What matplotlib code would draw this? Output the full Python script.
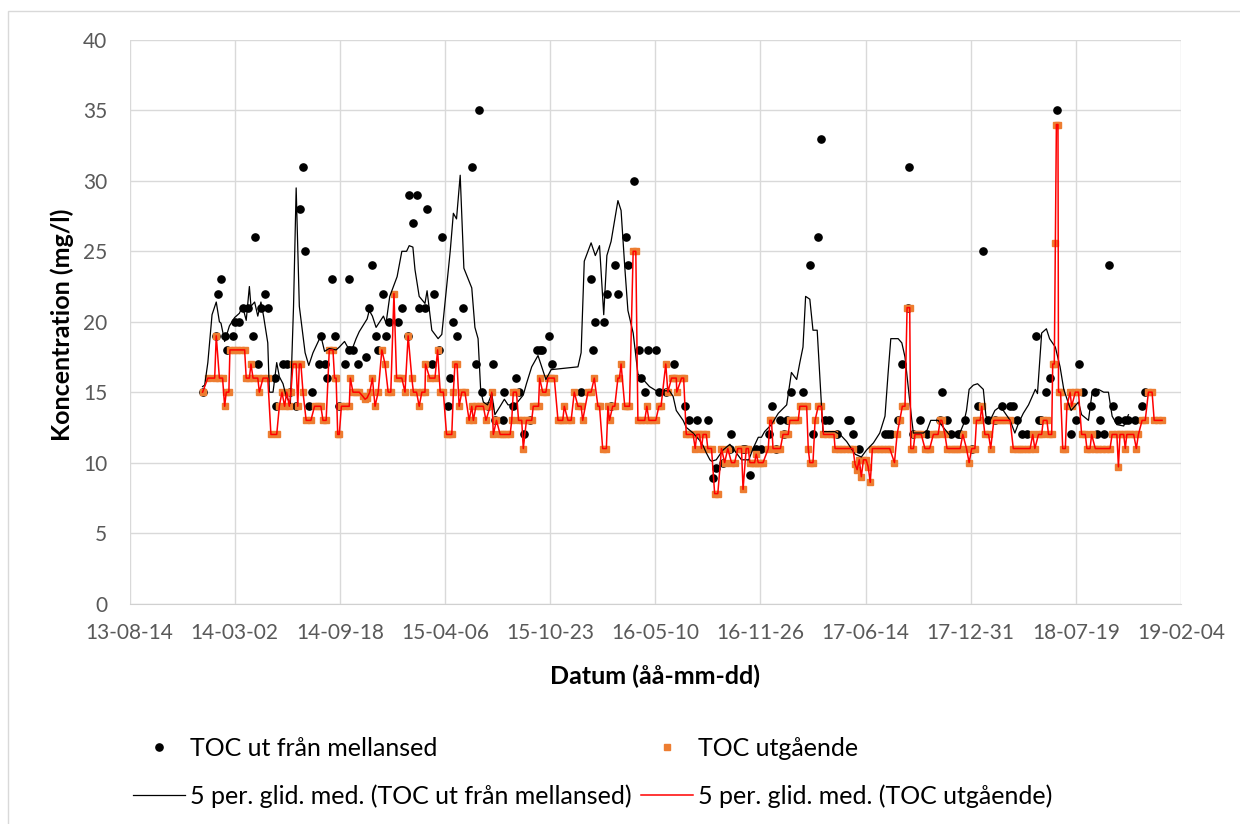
import numpy as np
import pandas as pd
import matplotlib
matplotlib.use("Agg")
import matplotlib.pyplot as plt
import matplotlib.dates as mdates
from matplotlib.patches import Rectangle

plt.rcParams['font.family'] = ['Lato', 'DejaVu Sans']

start = pd.Timestamp("2013-08-14")

# TOC ut från mellansed (dagar efter 2013-08-14, mg/l)
mellan_dag = [139, 165, 168, 174, 182, 186, 196, 200, 209, 215, 225, 234, 238, 245, 250, 257, 264, 276, 278, 292,
              299, 306, 316, 325, 330, 333, 342, 347, 361, 364, 371, 375, 385, 390, 398, 409, 417, 418, 426, 434,
              450, 456, 462, 468, 473, 483, 488, 494, 511, 518, 529, 532, 540, 546, 551, 562, 566, 575, 580, 588,
              594, 606, 609, 616, 622, 635, 652, 659, 664, 671, 681, 692, 695, 710, 713, 730, 735, 741, 750, 762,
              776, 780, 784, 797, 804, 859, 878, 881, 886, 902, 908, 916, 924, 929, 945, 949, 959, 970, 973, 980,
              986, 1001, 1008, 1021, 1035, 1057, 1064, 1079, 1100, 1110, 1116, 1129, 1142, 1145, 1166, 1170, 1180,
              1192, 1202, 1216, 1223, 1229, 1237, 1244, 1251, 1259, 1281, 1295, 1300, 1309, 1315, 1323, 1331, 1345,
              1367, 1370, 1376, 1388, 1437, 1443, 1449, 1462, 1470, 1481, 1483, 1491, 1503, 1517, 1542, 1545, 1554,
              1563, 1575, 1580, 1589, 1602, 1613, 1624, 1632, 1646, 1659, 1675, 1680, 1688, 1697, 1707, 1724, 1729,
              1733, 1744, 1750, 1764, 1791, 1801, 1806, 1813, 1829, 1836, 1841, 1846, 1854, 1863, 1870, 1880, 1894,
              1900, 1913, 1926, 1931]
mellan_toc = [15, 19, 22, 23, 19, 18, 19, 20, 20, 21, 21, 19, 26, 17, 21, 22, 21, 16, 14, 17,
              17, 15, 14, 28, 31, 25, 14, 15, 17, 19, 17, 16, 23, 19, 14, 17, 18, 23, 18, 17,
              17.5, 21, 24, 19, 18, 22, 19, 20, 20, 21, 19, 29, 27, 29, 21, 21, 28, 17, 22, 18,
              26, 14, 16, 20, 19, 21, 31, 17, 35, 15, 14, 17, 13, 13, 15, 14, 16, 15, 12, 13,
              18, 18, 18, 19, 17, 15, 23, 18, 20, 20, 22, 14, 24, 22, 26, 24, 30, 18, 16, 15,
              18, 18, 15, 15, 17, 14, 13, 13, 13, 8.9, 9.6, 10, 11, 12, 11, 11, 9.1,
              11, 11, 12, 14, 11, 13, 12, 13, 15, 15, 24, 12, 26, 33, 13, 13, 12,
              13, 13, 12, 11, 12, 12, 12, 13, 17, 21, 31, 12, 13, 12, 13, 15, 13,
              12, 12, 12, 13, 11, 14, 25, 13, 13, 14, 14, 14, 13, 12, 12, 19, 13,
              13, 15, 16, 35, 12, 13, 17, 15, 14, 15, 12, 13, 12, 24, 14, 13, 13,
              13, 13, 14, 15]

# TOC utgående
utg_dag = [139, 149, 162, 165, 171, 177, 181, 184, 189, 191, 198, 205, 212, 219, 222, 228, 231, 235, 244, 247,
           254, 263, 269, 280, 285, 290, 295, 299, 304, 307, 311, 317, 320, 323, 326, 330, 336, 345, 352, 358,
           364, 368, 374, 380, 387, 390, 393, 396, 399, 403, 410, 418, 420, 425, 431, 437, 444, 448, 452, 457,
           462, 467, 473, 480, 486, 492, 497, 503, 508, 513, 518, 524, 530, 537, 540, 546, 551, 556, 562, 563,
           571, 581, 586, 591, 597, 603, 608, 613, 616, 619, 623, 627, 632, 638, 646, 651, 654, 659, 666, 673,
           678, 686, 689, 692, 698, 705, 711, 717, 724, 727, 730, 736, 740, 746, 749, 755, 760, 765, 768, 774,
           778, 780, 786, 792, 796, 802, 808, 815, 820, 824, 827, 834, 840, 846, 853, 859, 862, 872, 878, 884,
           891, 894, 900, 907, 910, 913, 919, 923, 929, 932, 935, 942, 946, 951, 958, 963, 967, 973, 980, 984,
           988, 994, 1001, 1007, 1011, 1020, 1024, 1031, 1035, 1040, 1041, 1050, 1054, 1059, 1065, 1072, 1076, 1079,
           1084, 1088, 1091, 1097, 1100, 1107, 1113, 1119, 1126, 1132, 1138, 1145, 1151, 1157, 1164, 1167, 1173,
           1177, 1180, 1186, 1189, 1192, 1196, 1200, 1205, 1215, 1218, 1221, 1224, 1231, 1238, 1243, 1248, 1253,
           1256, 1262, 1267, 1272, 1275, 1281, 1288, 1291, 1294, 1300, 1304, 1310, 1316, 1320, 1327, 1334, 1340,
           1342, 1349, 1356, 1363, 1370, 1376, 1380, 1384, 1388, 1392, 1396, 1401, 1405, 1409, 1413, 1420, 1427,
           1434, 1441, 1446, 1455, 1460, 1465, 1470, 1475, 1479, 1484, 1486, 1491, 1494, 1500, 1506, 1513, 1518,
           1522, 1529, 1534, 1538, 1542, 1545, 1551, 1555, 1562, 1568, 1574, 1580, 1585, 1592, 1597, 1602, 1608,
           1611, 1618, 1621, 1627, 1634, 1638, 1644, 1650, 1656, 1662, 1668, 1675, 1681, 1688, 1694, 1700, 1707,
           1713, 1718, 1722, 1729, 1735, 1738, 1745, 1748, 1754, 1756, 1759, 1761, 1763, 1766, 1767, 1771, 1775,
           1780, 1783, 1789, 1792, 1799, 1805, 1811, 1818, 1821, 1827, 1830, 1837, 1843, 1850, 1857, 1865, 1869,
           1878, 1881, 1884, 1891, 1894, 1897, 1903, 1910, 1915, 1919, 1926, 1932, 1938, 1945, 1949, 1956, 1964]
utg_toc = [15, 16, 16, 19, 16, 16, 14, 15, 15, 18, 18, 18, 18, 18, 16, 16, 17, 16, 16, 15,
           16, 16, 12, 12, 14, 15, 14, 15, 14, 15, 17, 17, 14, 17, 17, 15, 13, 13, 14, 14,
           14, 13, 13, 18, 18, 16, 16, 12, 12, 14, 14, 14, 16, 15, 15, 15, 14.7, 14.5, 14.6, 15,
           16, 14, 15, 18, 17, 15, 15, 22, 16, 16, 16, 15, 19, 16, 15, 15, 14, 15, 15, 17,
           16, 16, 18, 15, 15, 12, 12, 12, 15, 17, 17, 14, 15, 15, 13, 14, 13, 14, 14, 14,
           13, 14, 15, 12, 13, 12, 12, 12, 12, 13, 15, 15, 13, 13, 11, 13, 13, 13, 14, 14,
           14, 16, 15, 15, 16, 16, 16, 13, 13, 13, 14, 13, 13, 15, 14, 14, 13, 15, 15, 16,
           14, 14, 11, 11, 14, 13, 14, 14, 16, 16, 17, 14, 14, 14, 25, 25, 13, 13, 13, 14,
           13, 13, 13, 14, 14, 17, 15, 16, 16, 16, 15, 16, 16, 12, 12, 12, 11, 12,
           12, 11, 12, 12, 11, 11, 7.8, 7.8, 11, 10, 11, 10, 10, 11, 11, 8.1, 11,
           11, 10, 10, 10, 10.6, 10, 10, 10, 11, 13, 13, 11, 11, 11, 12, 12, 12,
           13, 13, 13, 13, 14, 14, 14, 11, 10, 10, 13, 14, 14, 12, 12, 12, 12,
           11, 11, 11, 11, 11, 11, 9.9, 9.5, 10.2, 9.0, 10.2, 10.2, 9.7, 8.6, 11, 11, 11,
           11, 11, 11, 10, 12, 13, 14, 14, 21, 21, 11, 11, 12, 12, 12, 11, 11,
           11, 12, 12, 12, 13, 13, 12, 11, 11, 11, 11, 11, 12, 11, 10, 11, 11,
           13, 13, 14, 12, 12, 11, 13, 13, 13, 13, 13, 13, 11, 11, 11, 11, 11,
           11, 12, 11, 12, 12, 13, 13, 12, 12, 17, 17, 25.6, 34, 34, 15, 15, 11,
           11, 14, 15, 14, 15, 15, 12, 12, 11, 11, 12, 11, 11, 11, 11, 11, 12,
           12, 9.7, 12, 12, 11, 12, 12, 12, 11, 12, 13, 13, 15, 15, 13, 13, 13]

# 5 per. glid. med. (TOC ut från mellansed)
glid_dag = [139, 143, 149, 157, 165, 171, 174, 181, 185, 190, 200, 209, 215, 222, 228, 231, 238, 244, 250, 255,
            263, 266, 273, 280, 285, 292, 298, 306, 312, 317, 323, 330, 334, 341, 349, 364, 371, 380, 393, 399,
            409, 415, 425, 431, 437, 447, 452, 456, 462, 469, 483, 488, 495, 509, 518, 527, 532, 539, 543, 551,
            562, 566, 575, 587, 594, 610, 616, 622, 629, 636, 651, 657, 663, 668, 673, 681, 689, 695, 705, 713,
            720, 730, 736, 749, 755, 765, 777, 792, 802, 853, 859, 865, 878, 886, 894, 902, 908, 916, 929, 935,
            942, 948, 958, 967, 977, 989, 1002, 1027, 1034, 1040, 1053, 1059, 1072, 1084, 1091, 1097, 1104, 1107,
            1116, 1129, 1142, 1154, 1164, 1178, 1186, 1196, 1202, 1208, 1221, 1234, 1250, 1259, 1269, 1275, 1281,
            1286, 1294, 1300, 1308, 1313, 1319, 1342, 1354, 1364, 1373, 1380, 1392, 1402, 1415, 1427, 1437, 1441,
            1443, 1448, 1462, 1469, 1475, 1481, 1488, 1491, 1510, 1517, 1524, 1538, 1548, 1561, 1577, 1586, 1592,
            1597, 1605, 1613, 1624, 1629, 1637, 1646, 1653, 1662, 1675, 1684, 1691, 1700, 1710, 1723, 1727, 1735,
            1744, 1750, 1761, 1770, 1777, 1786, 1791, 1805, 1811, 1824, 1831, 1843, 1853, 1862, 1869, 1878, 1891,
            1900]
glid_toc = [15.4, 15.5, 17.1, 20.5, 21.4, 20.0, 19.9, 18.6, 19.1, 19.7, 20.3, 20.6, 21.1, 20.1, 22.5, 21.1, 21.4, 20.4, 21.4, 20.4,
            18.5, 15.0, 15.0, 17.1, 16.1, 15.6, 14.7, 14.2, 21.1, 29.5, 21.1, 19.0, 17.8, 16.9, 17.8, 19.0, 17.9, 18.1, 18.0, 18.2,
            18.6, 18.2, 18.2, 18.8, 19.3, 19.9, 20.2, 20.8, 20.4, 19.6, 20.4, 19.9, 21.8, 23.2, 25.0, 25.0, 25.4, 25.3, 23.7, 21.8,
            21.3, 22.2, 19.4, 18.8, 19.1, 25.0, 27.7, 27.3, 30.4, 23.8, 22.4, 19.6, 18.8, 15.1, 14.3, 14.1, 14.9, 13.4, 14.0, 14.5,
            14.1, 14.1, 14.2, 14.8, 15.6, 16.8, 17.6, 15.9, 16.6, 16.8, 17.8, 24.3, 25.6, 24.7, 25.4, 20.5, 24.7, 25.7, 28.6, 27.9,
            23.9, 20.8, 19.2, 16.3, 15.9, 15.4, 15.1, 15.1, 14.7, 13.7, 13.0, 12.5, 12.1, 11.6, 11.2, 10.7, 10.2, 10.1,
            10.2, 10.9, 11.3, 10.7, 10.2, 10.2, 11.0, 11.8, 11.8, 12.2, 12.7, 13.5, 14.1, 16.4, 15.9, 17.1, 18.2,
            21.8, 21.6, 19.4, 19.4, 16.1, 12.2, 12.2, 11.9, 11.5, 11.0, 10.6, 10.4, 10.9, 11.4, 12.1, 13.3, 15.4,
            16.4, 18.8, 18.8, 18.5, 17.5, 15.4, 13.0, 12.1, 12.1, 12.3, 13.0, 13.0, 12.5, 11.9, 11.9, 12.7, 13.7,
            15.2, 15.5, 15.6, 15.2, 13.3, 13.0, 13.7, 13.9, 13.7, 13.0, 12.1, 12.8, 13.5, 14.1, 15.2, 14.9, 19.2,
            19.5, 18.8, 18.2, 16.8, 15.2, 14.2, 13.7, 14.3, 13.4, 13.0, 15.0, 15.2, 15.0, 15.0, 13.3, 12.7, 12.6,
            13.4]

mellan_datum = start + pd.to_timedelta(mellan_dag, unit="D")
utg_datum = start + pd.to_timedelta(utg_dag, unit="D")
glid_datum = start + pd.to_timedelta(glid_dag, unit="D")

fig = plt.figure(figsize=(12.4, 8.24), dpi=100)
ax = fig.add_axes([129.5 / 1240, 1 - 603.5 / 824, 1051.5 / 1240, 563.5 / 824])

p1, = ax.plot(mellan_datum, mellan_toc, linestyle="none", marker="o", markersize=5.2,
              color="black", zorder=3, label="TOC ut från mellansed")
p2, = ax.plot(utg_datum, utg_toc, linestyle="none", marker="s", markersize=4.3,
              color="#ED7D31", zorder=4, label="TOC utgående")
l1, = ax.plot(glid_datum, glid_toc, color="black", lw=0.9, zorder=5,
              label="5 per. glid. med. (TOC ut från mellansed)")
l2, = ax.plot(utg_datum, utg_toc, color="#FF0000", lw=1.1, zorder=6,
              label="5 per. glid. med. (TOC utgående)")

ticks = pd.date_range("2013-08-14", periods=11, freq="200D")
ax.set_xlim(ticks[0], ticks[-1])
ax.set_xticks(ticks)
ax.xaxis.set_major_formatter(mdates.DateFormatter("%y-%m-%d"))
ax.set_ylim(0, 40)
ax.set_yticks(np.arange(0, 41, 5))

ax.grid(True, color="#d9d9d9", lw=1.0)
ax.set_axisbelow(True)
for s in ["top", "right", "left"]:
    ax.spines[s].set_visible(False)
ax.spines["bottom"].set_color("#d0d0d0")
ax.tick_params(length=0, labelsize=15, labelcolor="#595959")
ax.tick_params(axis="x", pad=14)
ax.tick_params(axis="y", pad=16)

ax.set_xlabel("Datum (åå-mm-dd)", fontsize=18, fontweight="bold")
ax.xaxis.set_label_coords(0.5, -0.109)
ax.set_ylabel("Koncentration (mg/l)", fontsize=18, fontweight="bold")
ax.yaxis.set_label_coords(-0.053, 0.494)

fig.legend(handles=[p1, l1, p2, l2], ncol=2, loc="upper left",
           bbox_to_anchor=(120 / 1240, 1 - 724 / 824), frameon=False, fontsize=18,
           borderpad=0, handlelength=2.1, handletextpad=0.2, columnspacing=0.36,
           labelspacing=1.0)

fig.patches.append(Rectangle((8 / 1240, -0.1), 1.2, 1.1 - 11 / 824, transform=fig.transFigure,
                             fill=False, edgecolor="#d9d9d9", lw=1.0))

fig.savefig("out.png", dpi=100)
